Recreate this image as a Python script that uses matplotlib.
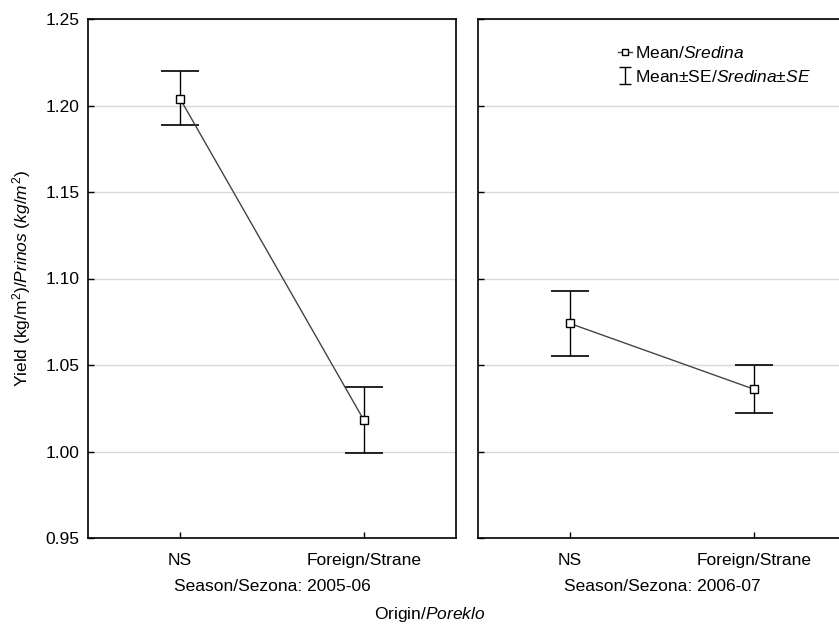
import numpy as np
import matplotlib.pyplot as plt

plt.rcParams['font.family'] = 'Liberation Sans'
plt.rcParams['mathtext.fontset'] = 'custom'
plt.rcParams['mathtext.rm'] = 'Liberation Sans'
plt.rcParams['mathtext.it'] = 'Liberation Sans:italic'

# datos
origen = ["NS", "Foreign/Strane"]
temporadas = ["Season/Sezona: 2005-06", "Season/Sezona: 2006-07"]
media_0506 = [1.204, 1.018]
baja_0506 = [1.189, 0.999]
alta_0506 = [1.220, 1.037]
media_0607 = [1.074, 1.036]
baja_0607 = [1.055, 1.022]
alta_0607 = [1.093, 1.050]
yticks = [0.95, 1.00, 1.05, 1.10, 1.15, 1.20, 1.25]

W, H = 839, 631
fs = 12.5
fig = plt.figure(figsize=(W/100, H/100), dpi=100)
bot = (H-538)/H
alto = (538-19)/H
ax1 = fig.add_axes([88/W, bot, 368/W, alto])
ax2 = fig.add_axes([478/W, bot, 368/W, alto])

series = [(media_0506, baja_0506, alta_0506), (media_0607, baja_0607, alta_0607)]
x = np.arange(len(origen))
for ax, (m, lo, hi), temp in zip([ax1, ax2], series, temporadas):
    m = np.array(m); lo = np.array(lo); hi = np.array(hi)
    ax.plot(x, m, color="#444444", lw=1, marker="s", ms=6, mfc="white",
            mec="black", mew=1, zorder=3)
    ax.errorbar(x, m, yerr=[m-lo, hi-m], fmt="none", ecolor="black",
                elinewidth=1, capsize=13.5, capthick=1.2, zorder=2)
    ax.set_xlim(-0.5, 1.5)
    ax.set_ylim(0.95, 1.25)
    ax.set_yticks(yticks)
    ax.set_xticks(x)
    ax.set_xticklabels(origen, fontsize=fs)
    ax.grid(axis="y", color="#d8d8d8", lw=1)
    ax.set_axisbelow(True)
    ax.tick_params(direction="in", length=4, width=1, labelsize=fs, pad=6)
    ax.tick_params(axis="x", pad=11)
    for s in ax.spines.values():
        s.set_linewidth(1.2)
    ax.set_xlabel(temp, fontsize=fs, labelpad=8)

ax1.set_yticklabels(["%.2f" % v for v in yticks])
ax2.set_yticklabels([])
ax1.set_ylabel("Yield (kg/m$^2$)/$\\mathit{Prinos\\ (kg/m^2)}$", fontsize=fs, labelpad=9)

# entradas de la leyenda
h1, = ax2.plot([np.nan], [np.nan], color="#444444", lw=1, marker="s", ms=5,
               mfc="white", mec="black", mew=1)
h2 = ax2.errorbar([np.nan], [np.nan], yerr=[[np.nan], [np.nan]], fmt="none",
                  ecolor="black", elinewidth=1, capsize=4.5, capthick=1)
ax2.legend([h1, h2], ["Mean/$\\mathit{Sredina}$", "Mean\u00b1SE/$\\mathit{Sredina\u00b1SE}$"],
           loc="upper left", bbox_to_anchor=(0.357, 0.967), frameon=False,
           fontsize=fs, handlelength=0.8, handletextpad=0.2, labelspacing=0.45,
           borderpad=0)

fig.text(430/W, 1-615/H, "Origin/$\\mathit{Poreklo}$", ha="center", va="center", fontsize=fs)

plt.savefig("out.png", dpi=100)
plt.close()
